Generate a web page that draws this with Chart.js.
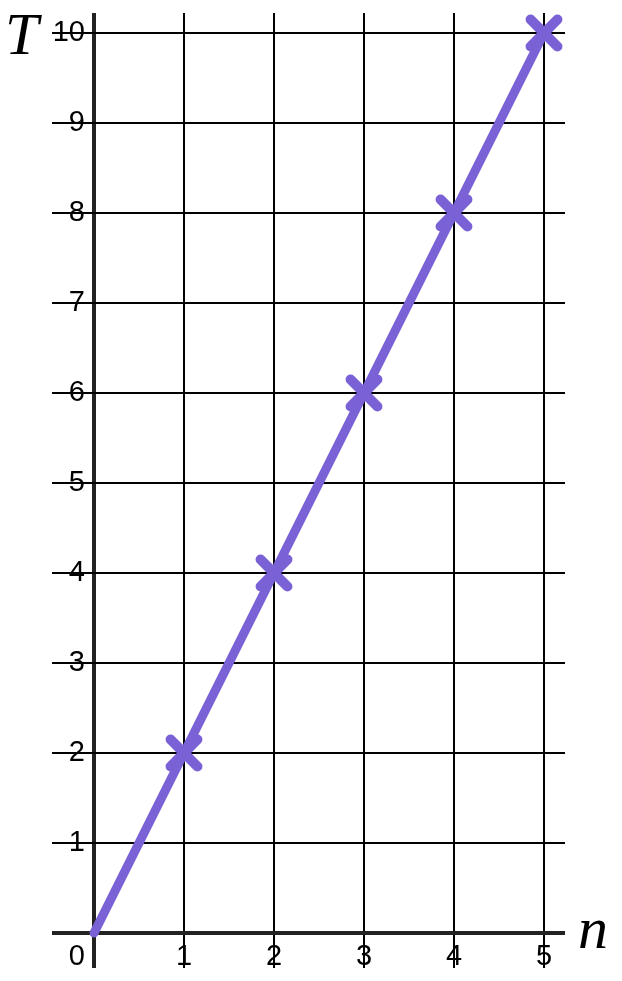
<!DOCTYPE html>
<html>
<head>
<meta charset="utf-8">
<script src="https://cdn.jsdelivr.net/npm/chart.js@4"></script>
<style>
  html, body { margin: 0; padding: 0; background: #fff; }
  #wrap { width: 622px; height: 981px; }
</style>
</head>
<body>
<div id="wrap"><canvas id="chart"></canvas></div>
<script>
const nValues = [0, 1, 2, 3, 4, 5]
const tValues = [0, 2, 4, 6, 8, 10]
const xTicks = [0, 1, 2, 3, 4, 5]
const yTicks = [0, 1, 2, 3, 4, 5, 6, 7, 8, 9, 10]

const purple = "rgb(122, 97, 214)"
const tickFont = "29px 'Liberation Sans'"

// tick labels sit next to the axes that cross at the origin
const axisLabels = {
  id: "axisLabels",
  beforeDatasetsDraw(chart) {
    chart.ctx.lineCap = "round"
  },
  afterDatasetsDraw(chart) {
    chart.ctx.lineCap = "butt"
  },
  afterDraw(chart) {
    const ctx = chart.ctx
    const x = chart.scales.x
    const y = chart.scales.y
    const x0 = x.getPixelForValue(0)
    const y0 = y.getPixelForValue(0)
    ctx.save()
    ctx.fillStyle = "#000"
    ctx.font = tickFont
    ctx.textBaseline = "middle"
    ctx.textAlign = "right"
    y.ticks.forEach(t => {
      if (t.value !== 0) ctx.fillText(String(t.value), x0 - 9, y.getPixelForValue(t.value))
    })
    ctx.fillText("0", x0 - 9, y0 + 24)
    ctx.textAlign = "center"
    x.ticks.forEach(t => {
      if (t.value !== 0) ctx.fillText(String(t.value), x.getPixelForValue(t.value), y0 + 24)
    })
    ctx.font = "italic 60px 'Liberation Serif'"
    ctx.textAlign = "left"
    ctx.textBaseline = "alphabetic"
    ctx.fillText("T", 5, 54)
    ctx.fillText("n", 578, 948)
    ctx.restore()
  },
}

const gridStyle = {
  color: c => (c.tick && c.tick.value === 0 ? "#222" : "#000"),
  lineWidth: c => (c.tick && c.tick.value === 0 ? 4 : 2),
  drawTicks: false,
}

new Chart(document.getElementById("chart"), {
  type: "scatter",
  data: {
    datasets: [
      {
        data: nValues.map((n, i) => ({ x: n, y: tValues[i] })),
        showLine: true,
        clip: false,
        borderColor: purple,
        borderWidth: 9,
        borderCapStyle: "round",
        pointStyle: "crossRot",
        pointRadius: nValues.map(n => (n === 0 ? 0 : 19)),
        pointHoverRadius: 19,
        pointBorderWidth: 10,
        pointBorderColor: purple,
        pointBackgroundColor: purple,
      },
    ],
  },
  options: {
    responsive: true,
    maintainAspectRatio: false,
    animation: false,
    layout: { autoPadding: false, padding: { left: 52, right: 57, top: 13, bottom: 13 } },
    plugins: {
      legend: { display: false },
      tooltip: { enabled: false },
    },
    scales: {
      x: {
        type: "linear",
        min: -0.4667,
        max: 5.2333,
        afterBuildTicks: axis => {
          axis.ticks = xTicks.map(v => ({ value: v }))
        },
        grid: gridStyle,
        border: { display: false },
        ticks: { display: false },
      },
      y: {
        type: "linear",
        min: -0.3889,
        max: 10.2222,
        afterBuildTicks: axis => {
          axis.ticks = yTicks.map(v => ({ value: v }))
        },
        grid: gridStyle,
        border: { display: false },
        ticks: { display: false },
      },
    },
  },
  plugins: [axisLabels],
})
</script>
</body>
</html>
